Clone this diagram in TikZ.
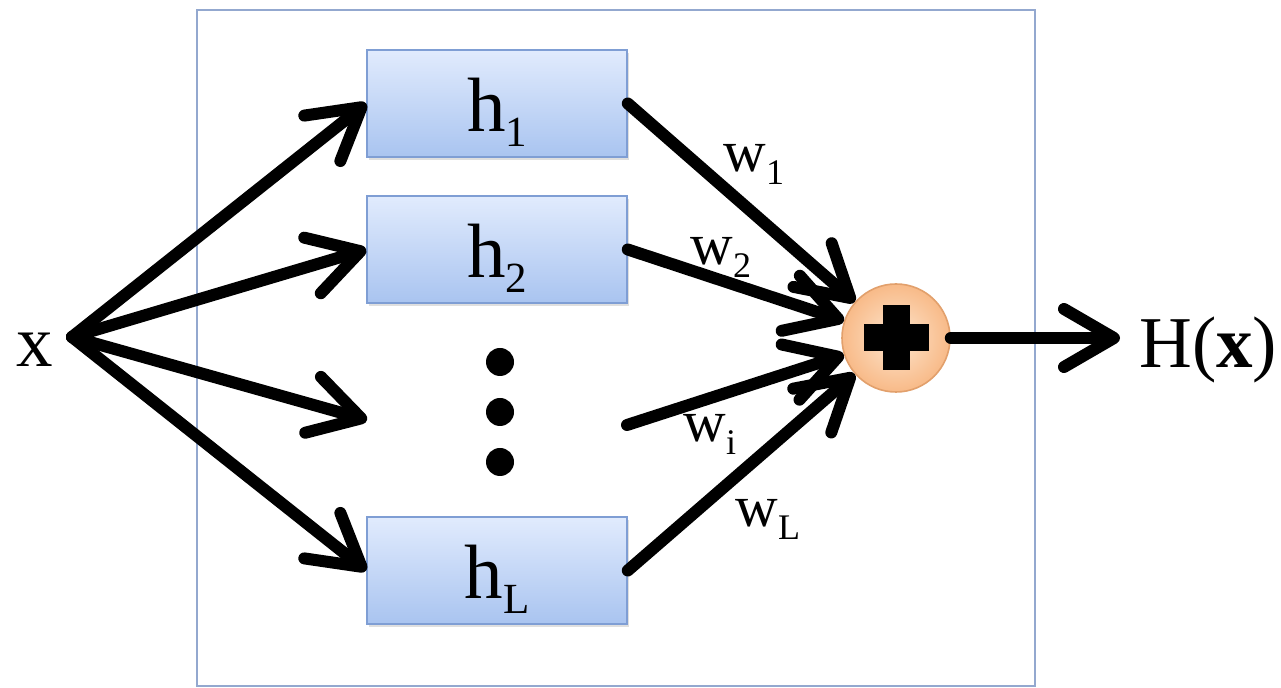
\documentclass[tikz,border=0pt]{standalone}
\usepackage{fontspec}
\setmainfont{Liberation Serif}
\usetikzlibrary{arrows.meta,shadows}
\definecolor{boxtop}{HTML}{E1EBFD}
\definecolor{boxbot}{HTML}{A9C4F0}
\definecolor{boxline}{HTML}{7F9ED4}
\definecolor{frameline}{HTML}{93A8CF}
\definecolor{suminner}{HTML}{FDE6CF}
\definecolor{sumouter}{HTML}{F8BA88}
\definecolor{sumline}{HTML}{E2A06C}
\newcommand{\hsub}[1]{\raisebox{-7.5pt}{\fontsize{21.5}{21.5}\selectfont #1}}
\newcommand{\wsub}[1]{\raisebox{-6.5pt}{\fontsize{18}{18}\selectfont #1}}
\begin{document}
\begin{tikzpicture}[x=0.5pt,y=-0.5pt,
  hbox/.style={draw=boxline, line width=0.8pt, top color=boxtop, bottom color=boxbot,
    minimum width=130pt, minimum height=53.5pt, inner sep=0pt,
    text height=34pt, text depth=5.5pt,
    font=\fontsize{38.5}{38.5}\selectfont,
    drop shadow={opacity=0.25, shadow xshift=1pt, shadow yshift=-1.5pt}},
  arr/.style={line width=6pt, line cap=round,
    -{Straight Barb[length=25pt,width=29pt,round]}},
  wlab/.style={anchor=base west, inner sep=0pt, font=\fontsize{29.5}{29.5}\selectfont},
  bigtxt/.style={anchor=base, inner sep=0pt, font=\fontsize{36.5}{36.5}\selectfont},
  dot/.style={circle, fill=black, minimum size=14pt, inner sep=0pt},
  sumc/.style={circle, draw=sumline, line width=0.8pt, inner color=suminner,
    outer color=sumouter, minimum size=54pt, inner sep=0pt}
]
\useasboundingbox (0,0) rectangle (1281,688);
\fill[white] (0,0) rectangle (1281,688);

% enclosing frame
\draw[frameline, line width=1pt] (197,10) rectangle (1035,686);

% expert boxes
\node[hbox] (h1) at (497,103.5) {h\hsub{1}};
\node[hbox] (h2) at (497,249.5) {h\hsub{2}};
\node[hbox] (hL) at (497,570.5) {h\hsub{L}};

% ellipsis
\node[dot] (d1) at (500,362) {};
\node[dot] (d2) at (500,412) {};
\node[dot] (d3) at (500,462) {};

% summing junction
\node[sumc] (s) at (896,338) {};
\fill (s.center) ++(-32.5,-13.5) rectangle ++(65,27);
\fill (s.center) ++(-13.5,-32.5) rectangle ++(27,65);

% input and output texts
\node[bigtxt] (x) at (35,367) {x};
\node[bigtxt, anchor=base west] (H) at (1139,368) {H(\textbf{x})};

\coordinate (src) at (72,337);
\coordinate (midin) at (367,420);
\coordinate (midout) at (627,425);
\coordinate (out) at (1120,338);

% fan-out from the input
\draw[arr] (src) -- (h1.west);
\draw[arr] (src) -- (h2.west);
\draw[arr] (src) -- (midin);
\draw[arr] (src) -- (hL.west);

% weighted connections to the sum
\draw[arr] (h1.east) -- (s);
\draw[arr] (h2.east) -- (s);
\draw[arr] (midout) -- (s);
\draw[arr] (hL.east) -- (s);
\draw[arr] (s.east) -- (out);

% weights
\node[wlab] (w1) at (723,172) {w\wsub{1}};
\node[wlab] (w2) at (690,265) {w\wsub{2}};
\node[wlab] (wi) at (683,442) {w\wsub{i}};
\node[wlab] (wL) at (735,527) {w\wsub{L}};
\end{tikzpicture}
\end{document}
